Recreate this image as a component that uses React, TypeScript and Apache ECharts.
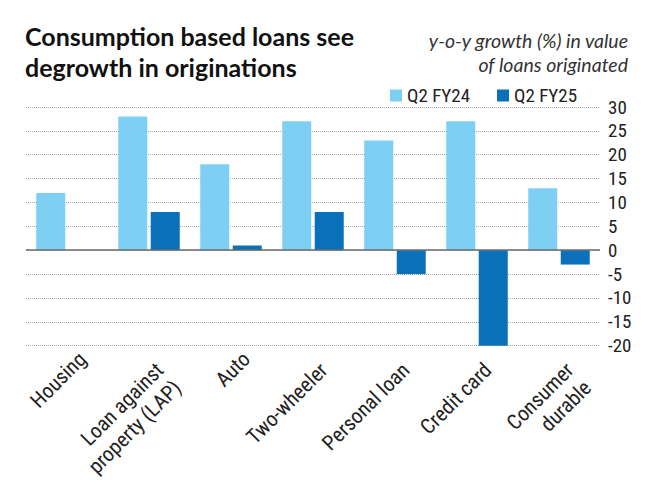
import React, { useEffect, useRef } from "react";
import * as echarts from "echarts";

const titleLines = ["Consumption based loans see", "degrowth in originations"];
const subtitleLines = ["y-o-y growth (%) in value", "of loans originated"];
const seriesNames = ["Q2 FY24", "Q2 FY25"];
const categories = [
  "Housing",
  "Loan against\nproperty (LAP)",
  "Auto",
  "Two-wheeler",
  "Personal loan",
  "Credit card",
  "Consumer\ndurable",
];
const q2fy24 = [12, 28, 18, 27, 23, 27, 13];
const q2fy25 = [0, 8, 1, 8, -5, -20, -3];
const yMin = -20;
const yMax = 30;
const yStep = 5;

// the short labels sit further right in the reference
const shiftedLabels = ["Housing", "Auto"];
const SHIFT = 11;

const FONT = "Lato, 'Noto Sans', sans-serif";
const COND = "'Roboto Condensed', Roboto, sans-serif";
const LIGHT = "#7ecff4";
const DARK = "#0a70b9";

export default function App() {
  const ref = useRef<HTMLDivElement>(null);
  useEffect(() => {
    if (!ref.current) return;
    const chart = echarts.init(ref.current, undefined, { renderer: "svg" });

    const catData = categories.map((c) =>
      shiftedLabels.includes(c)
        ? { value: c, textStyle: { align: "left", padding: [3 + SHIFT + 8, 0, 0, 0] } }
        : c
    );

    const txt = (
      text: string,
      x: number,
      y: number,
      font: string,
      fill: string,
      align: string
    ) => ({
      type: "text",
      x,
      y,
      style: {
        text,
        font,
        fill,
        textAlign: align,
        textVerticalAlign: "middle",
        align,
        verticalAlign: "middle",
      },
    });

    chart.setOption({
      animation: false,
      backgroundColor: "#ffffff",
      textStyle: { fontFamily: FONT },
      graphic: [
        txt(titleLines[0], 25, 35.5, `bold 25px ${FONT}`, "#111111", "left"),
        txt(titleLines[1], 25, 67, `bold 25px ${FONT}`, "#111111", "left"),
        txt(subtitleLines[0], 628, 40.5, `italic 19.5px ${FONT}`, "#333333", "right"),
        txt(subtitleLines[1], 628, 64.5, `italic 19.5px ${FONT}`, "#333333", "right"),
      ],
      legend: {
        left: 385,
        top: 81,
        icon: "rect",
        itemWidth: 12,
        itemHeight: 12,
        itemGap: 27,
        textStyle: { fontSize: 19, color: "#222222", fontFamily: COND },
        data: seriesNames,
      },
      grid: { left: 26, right: 60, top: 107, bottom: 133 },
      xAxis: {
        type: "category",
        data: catData,
        axisLine: { show: false, onZero: false },
        axisTick: { show: false },
        axisLabel: {
          interval: 0,
          rotate: 45,
          margin: 10,
          verticalAlign: "top",
          padding: [3, 0, 0, 0],
          fontSize: 21,
          lineHeight: 25,
          color: "#222222",
          fontFamily: COND,
          formatter: (v: string) =>
            shiftedLabels.includes(v) ? `{s|${v}}` : v,
          rich: {
            s: {
              width: SHIFT,
              align: "right",
              fontSize: 21,
              lineHeight: 25,
              color: "#222222",
              fontFamily: COND,
            },
          },
        },
        splitLine: { show: false },
      },
      yAxis: {
        type: "value",
        position: "right",
        min: yMin,
        max: yMax,
        interval: yStep,
        axisLine: { show: false },
        axisTick: { show: false },
        axisLabel: {
          margin: 8,
          fontSize: 19,
          color: "#222222",
          fontFamily: COND,
          align: "left",
        },
        splitLine: {
          show: true,
          lineStyle: { color: "#a8a8a8", type: "dotted", width: 1 },
        },
      },
      series: [
        {
          name: seriesNames[0],
          type: "bar",
          data: q2fy24,
          barWidth: 29,
          barGap: "12%",
          itemStyle: { color: LIGHT },
          markLine: {
            silent: true,
            symbol: "none",
            label: { show: false },
            lineStyle: { color: "#6b6b6b", type: "solid", width: 1.5 },
            data: [{ yAxis: 0 }],
          },
        },
        {
          name: seriesNames[1],
          type: "bar",
          data: q2fy25,
          barWidth: 29,
          barGap: "12%",
          itemStyle: { color: DARK },
        },
      ],
    });
    return () => chart.dispose();
  }, []);
  return (
    <div
      ref={ref}
      style={{ position: "fixed", left: 0, top: 0, width: 660, height: 481 }}
    />
  );
}
